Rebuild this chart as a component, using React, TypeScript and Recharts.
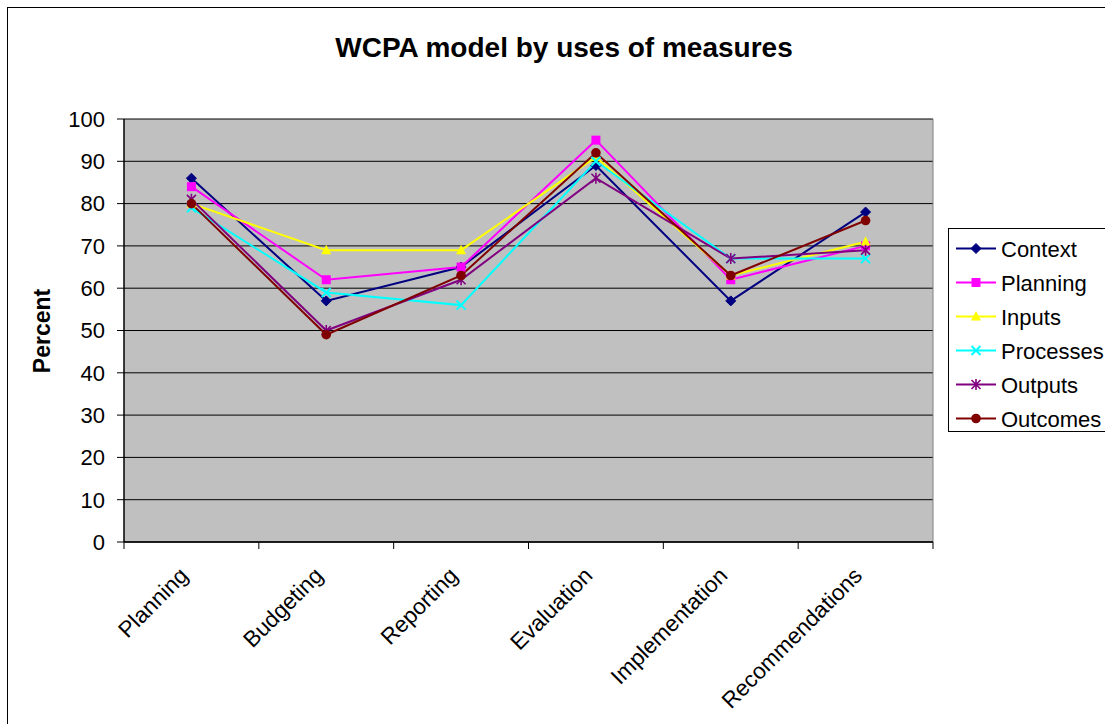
import React from 'react';
import { LineChart, Line, XAxis, YAxis, CartesianGrid, Legend, ReferenceLine } from 'recharts';

const categories = ['Planning', 'Budgeting', 'Reporting', 'Evaluation', 'Implementation', 'Recommendations'];
const context = [86, 57, 65, 89, 57, 78];
const planning = [84, 62, 65, 95, 62, 70];
const inputs = [80, 69, 69, 91, 63, 71];
const processes = [79, 59, 56, 90, 67, 67];
const outputs = [81, 50, 62, 86, 67, 69];
const outcomes = [80, 49, 63, 92, 63, 76];
const yTicks = [0, 10, 20, 30, 40, 50, 60, 70, 80, 90, 100];

const series = [
  { key: 'Context', values: context, color: '#000080', marker: 'diamond' },
  { key: 'Planning', values: planning, color: '#FF00FF', marker: 'square' },
  { key: 'Inputs', values: inputs, color: '#FFFF00', marker: 'triangle' },
  { key: 'Processes', values: processes, color: '#00FFFF', marker: 'x' },
  { key: 'Outputs', values: outputs, color: '#800080', marker: 'star' },
  { key: 'Outcomes', values: outcomes, color: '#800000', marker: 'circle' },
];

const data = categories.map((c, i) => {
  const row: any = { x: i + 0.5, name: c };
  series.forEach((s) => { row[s.key] = s.values[i]; });
  return row;
});

const xTicks = [0, 0.5, 1, 1.5, 2, 2.5, 3, 3.5, 4, 4.5, 5, 5.5, 6];
const FONT = 'Arial, "Liberation Sans", sans-serif';

function Marker({ type, cx, cy, color }: any) {
  switch (type) {
    case 'diamond':
      return <polygon points={`${cx},${cy - 5} ${cx + 5},${cy} ${cx},${cy + 5} ${cx - 5},${cy}`} fill={color} stroke={color} strokeWidth={1} />;
    case 'square':
      return <rect x={cx - 4.5} y={cy - 4.5} width={9} height={9} fill={color} />;
    case 'triangle':
      return <polygon points={`${cx},${cy - 5.5} ${cx + 5},${cy + 4} ${cx - 5},${cy + 4}`} fill={color} />;
    case 'x':
      return <path d={`M${cx - 4.5},${cy - 4.5}L${cx + 4.5},${cy + 4.5}M${cx - 4.5},${cy + 4.5}L${cx + 4.5},${cy - 4.5}`} stroke={color} strokeWidth={2} fill="none" />;
    case 'star':
      return <path d={`M${cx - 4.5},${cy - 4.5}L${cx + 4.5},${cy + 4.5}M${cx - 4.5},${cy + 4.5}L${cx + 4.5},${cy - 4.5}M${cx},${cy - 5.5}L${cx},${cy + 5.5}`} stroke={color} strokeWidth={1.6} fill="none" />;
    case 'circle':
      return <circle cx={cx} cy={cy} r={4.8} fill={color} />;
    default:
      return null;
  }
}

const makeDot = (type: string, color: string, key: string) => (props: any) => (
  <g key={`${key}-${props.index}`}>
    <Marker type={type} cx={props.cx} cy={props.cy} color={color} />
  </g>
);

const XTick = (props: any) => {
  const { x, y, payload } = props;
  const v = payload.value;
  if (Number.isInteger(v)) {
    return <line x1={x} y1={y} x2={x} y2={y + 7} stroke="#000" strokeWidth={1} />;
  }
  const label = categories[Math.floor(v)];
  const ax = x - 2;
  const ay = y + 35;
  return (
    <text x={ax} y={ay} textAnchor="end" transform={`rotate(-45 ${ax} ${ay})`} fontSize={22.5} fontFamily={FONT} fill="#000">
      {label}
    </text>
  );
};

const LegendContent = (props: any) => {
  const payload = props.payload || [];
  return (
    <div style={{ border: '1px solid #000', width: 170, height: 204, background: '#fff', boxSizing: 'border-box' }}>
      <svg width={168} height={202} style={{ display: 'block' }}>
        {series.map((s, i) => {
          const entry = payload.find((p: any) => p.value === s.key) || { value: s.key, color: s.color };
          const y = 19.5 + i * 34;
          return (
            <g key={entry.value}>
              <line x1={7} y1={y} x2={47} y2={y} stroke={entry.color} strokeWidth={2} />
              <Marker type={s.marker} cx={27} cy={y} color={entry.color} />
              <text x={52} y={y + 8} fontSize={22} fontFamily={FONT} fill="#000">{entry.value}</text>
            </g>
          );
        })}
      </svg>
    </div>
  );
};

export default function App() {
  return (
    <div style={{ position: 'absolute', left: 0, top: 0, width: 1105, height: 724, overflow: 'hidden', background: '#fff' }}>
      <div style={{ position: 'absolute', left: 7, top: 7, width: 1200, height: 800, border: '1px solid #000', boxSizing: 'border-box' }} />
      <div style={{ position: 'absolute', left: 0, top: 31, width: 1128, textAlign: 'center', fontFamily: FONT, fontWeight: 'bold', fontSize: 28, color: '#000', lineHeight: '33px' }}>
        WCPA model by uses of measures
      </div>
      <div style={{ position: 'absolute', left: 0, top: 0 }}>
        <LineChart width={1105} height={724} data={data} margin={{ top: 119, right: 172, bottom: 0, left: 0 }}>
          <CartesianGrid fill="#C0C0C0" fillOpacity={1} stroke="#000" vertical={false} horizontal={true} />
          <ReferenceLine x={6} stroke="#808080" strokeWidth={1} />
          <XAxis
            dataKey="x"
            type="number"
            domain={[0, 6]}
            ticks={xTicks}
            interval={0}
            tickLine={false}
            tickSize={0}
            tickMargin={0}
            axisLine={{ stroke: '#000', strokeWidth: 1.5 }}
            height={182}
            tick={<XTick />}
          />
          <YAxis
            type="number"
            domain={[0, 100]}
            ticks={yTicks}
            interval={0}
            width={124}
            tickSize={7}
            tickMargin={12}
            tickLine={{ stroke: '#000' }}
            axisLine={{ stroke: '#000', strokeWidth: 1.5 }}
            tick={{ fontSize: 22, fontFamily: FONT, fill: '#000' }}
            label={(p: any) => (
              <text x={50} y={331} transform="rotate(-90 50 331)" textAnchor="middle" fontSize={23} fontWeight="bold" fontFamily={FONT} fill="#000">
                Percent
              </text>
            )}
          />
          <Legend
            layout="vertical"
            align="center"
            verticalAlign="middle"
            wrapperStyle={{ left: 948, top: 228, width: 170, height: 204 }}
            content={<LegendContent />}
          />
          {series.map((s) => (
            <Line
              key={s.key}
              dataKey={s.key}
              name={s.key}
              stroke={s.color}
              strokeWidth={2}
              isAnimationActive={false}
              dot={makeDot(s.marker, s.color, s.key)}
              activeDot={false}
            />
          ))}
        </LineChart>
      </div>
    </div>
  );
}
